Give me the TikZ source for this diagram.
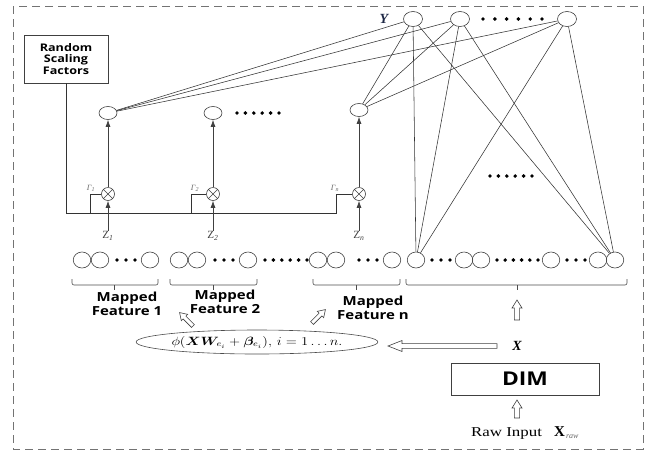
\documentclass[tikz,border=0pt]{standalone}
\usepackage{fontspec}
\usepackage{amsmath,bm}
\setmainfont{Liberation Serif}
\newfontfamily\lblfont{Open Sans}[FakeStretch=1.2]
\newfontfamily\widefont{Liberation Serif}[FakeStretch=1.25]
\usetikzlibrary{shapes.geometric,calc,arrows.meta}

\tikzset{
  wire/.style={draw=black!80, line width=0.55pt},
  ctl/.style={draw=black!80, line width=0.7pt},
  upar/.style={draw=black!75, line width=0.7pt, -{Latex[length=7pt,width=5pt]}},
  hid/.style={ellipse, draw=black!75, line width=0.6pt, minimum width=18pt, minimum height=13pt, inner sep=0pt},
  outn/.style={ellipse, draw=black!75, line width=0.6pt, minimum width=19pt, minimum height=15pt, inner sep=0pt},
  inn/.style={ellipse, draw=black!75, line width=0.6pt, minimum width=17.5pt, minimum height=16pt, inner sep=0pt},
  mult/.style={circle, draw=black!75, line width=0.6pt, minimum size=13pt, inner sep=0pt},
  bracket/.style={draw=black!70, line width=0.6pt},
  boxlbl/.style={font=\lblfont\bfseries\fontsize{12.5}{14}\selectfont, align=center, inner sep=0pt},
  zlbl/.style={font=\fontsize{11}{11}\selectfont, text=black!75, inner sep=0pt},
  glbl/.style={font=\itshape\fontsize{8}{8}\selectfont, text=black!60, inner sep=0pt},
  hollow/.style={draw=black!75, line width=0.6pt, fill=white},
}

% hollow block arrow: position, rotation, length, shaft half width, head half width, head length
\newcommand\blockarrow[6]{%
  \draw[hollow, shift={(#1)}, rotate=#2]
    (0,-#4) -- ({#3-#6},-#4) -- ({#3-#6},-#5) -- (#3,0) -- ({#3-#6},#5)
    -- ({#3-#6},#4) -- (0,#4) -- cycle;}

% bottom bracket under a group of input nodes
\newcommand\groupbracket[3]{%
  \draw[bracket, rounded corners=2pt] (#1,279) -- (#1,285) -- (#2,285) -- (#2,279);
  \draw[bracket] (#3,285) -- (#3,290);}

\newcommand\dotline[4]{% y, first x, step, count
  \foreach \k in {1,...,#4} \fill ({#2+(\k-1)*#3},#1) circle (1.95pt);}

\begin{document}
\begin{tikzpicture}[x=1pt,y=-1pt]
\useasboundingbox (0,0) rectangle (653,451);

% outer dashed frame
\draw[draw=black!55, line width=0.8pt, dash pattern=on 8pt off 5pt] (13,6) rectangle (643,449);

% random scaling factors
\node[draw=black!75, line width=0.7pt, minimum width=84pt, minimum height=48pt, inner sep=0pt,
      font=\lblfont\bfseries\fontsize{10.5}{11.6}\selectfont, align=center] (rsf) at (66,59)
      {Random\\Scaling\\Factors};

% output layer
\node[outn] (y1) at (413,19) {};
\node[outn] (y2) at (460,19) {};
\node[outn] (y3) at (567,19) {};
\node[font=\bfseries\itshape\fontsize{14}{14}\selectfont, text={rgb,255:red,30;green,40;blue,70}] (ylab) at (384,19) {Y};
\dotline{19}{483}{11.8}{6}

% enhancement nodes
\node[hid] (h1) at (108,113) {};
\node[hid] (h2) at (213,113) {};
\node[hid] (hn) at (359,110) {};
\dotline{113}{237}{8.4}{6}
\dotline{176}{490}{8.4}{6}

% multipliers
\foreach \m/\x in {m1/108, m2/213, mn/359} {
  \node[mult] (\m) at (\x,194) {};
  \draw[line width=0.55pt, black!75] (\m.north west) -- (\m.south east) (\m.north east) -- (\m.south west);
}
\node[glbl] (g1) at (91,188) {Γ\textsubscript{1}};
\node[glbl] (g2) at (195,188) {Γ\textsubscript{2}};
\node[glbl] (gn) at (335,188) {Γ\textsubscript{n}};

% z labels
\node[zlbl] (z1) at (108,236) {Z\textsubscript{\itshape 1}};
\node[zlbl] (z2) at (213,236) {Z\textsubscript{\itshape 2}};
\node[zlbl] (zn) at (359,236) {Z\textsubscript{\itshape n}};

% scaling factor bus
\coordinate (s1) at (90,213);
\coordinate (s2) at (191,213);
\coordinate (sn) at (336,213);
\draw[ctl] (rsf.south) |- (sn) |- (mn.west);
\draw[ctl] (s1) |- (m1.west);
\draw[ctl] (s2) |- (m2.west);

% arrows into and out of the multipliers
\foreach \i in {1,2,n} {
  \draw[upar] (z\i.north) -- (m\i.south);
  \draw[upar] (m\i.north) -- (h\i.south);
}

% input (mapped feature) nodes
\node[inn] (a1) at (82,260) {};
\node[inn] (a2) at (100,260) {};
\node[inn] (a3) at (150,260) {};
\dotline{260}{117}{9}{3}
\node[inn] (b1) at (179,260) {};
\node[inn] (b2) at (197,260) {};
\node[inn] (b3) at (248,260) {};
\dotline{260}{215}{9}{3}
\dotline{260}{265}{8.4}{6}
\node[inn] (c1) at (318,260) {};
\node[inn] (c2) at (336,260) {};
\node[inn] (c3) at (392,260) {};
\dotline{260}{359}{9}{3}
\node[inn] (r1) at (416,260) {};
\dotline{260}{432}{9}{3}
\node[inn] (r2) at (464,260) {};
\node[inn] (r3) at (481,260) {};
\dotline{260}{497}{8.2}{6}
\node[inn] (r4) at (551,260) {};
\dotline{260}{567}{9}{3}
\node[inn] (r5) at (598,260) {};
\node[inn] (r6) at (615,260) {};

% full connections to the output layer
\foreach \o in {y1,y2,y3} {
  \foreach \t in {h1,hn,r1,r6} {
    \draw[wire] (\o) -- (\t);
  }
}

% group brackets
\groupbracket{72}{158}{114}
\groupbracket{170}{257}{213}
\groupbracket{313}{400}{356}
\groupbracket{406}{627}{517}

% group labels
\node[boxlbl] (f1) at (127,304) {Mapped\\Feature 1};
\node[boxlbl] (f2) at (225,301.5) {Mapped\\Feature 2};
\node[boxlbl] (fn) at (373,307.5) {Mapped\\Feature n};

% feature mapping
\node[ellipse, draw=black!70, line width=0.6pt, minimum width=211pt, minimum height=24pt, inner sep=0pt] (phi) at (257,342)
  {\scalebox{1.22}[1]{\fontsize{12}{12}\selectfont$\phi(\bm{X}\bm{W}_{e_i}+\bm{\beta}_{e_i}),\, i=1\ldots n.$}};

\coordinate (d1) at (193,326);
\coordinate (d2) at (312,323);
\blockarrow{d1}{135}{19}{2}{4.5}{7}
\blockarrow{d2}{45}{19}{2}{4.5}{7}

% input side
\node[font=\bfseries\itshape\fontsize{14}{14}\selectfont] (xlab) at (517,346) {X};
\coordinate (xl) at (497,346);
\blockarrow{xl}{180}{109}{2.4}{5.5}{14}
\coordinate (xu) at (517,320);
\blockarrow{xu}{90}{20}{2.6}{5}{8}

\node[draw=black!75, line width=0.7pt, minimum width=148pt, minimum height=32pt, inner sep=0pt,
      font=\lblfont\bfseries\fontsize{19}{19}\selectfont] (dim) at (525,379) {DIM};

\coordinate (ru) at (517,418);
\blockarrow{ru}{90}{18}{2.6}{5}{8}

\node[font=\widefont\fontsize{13.5}{14}\selectfont, anchor=base west, inner sep=0pt] (raw) at (471,436) {Raw Input};
\node[anchor=base west, inner sep=0pt] (xraw) at (554,436)
  {\fontsize{15}{15}\selectfont\textbf{X}\hspace{1pt}\raisebox{-2pt}{\fontsize{8}{8}\selectfont\color{black!60}\itshape raw}};
\end{tikzpicture}
\end{document}
